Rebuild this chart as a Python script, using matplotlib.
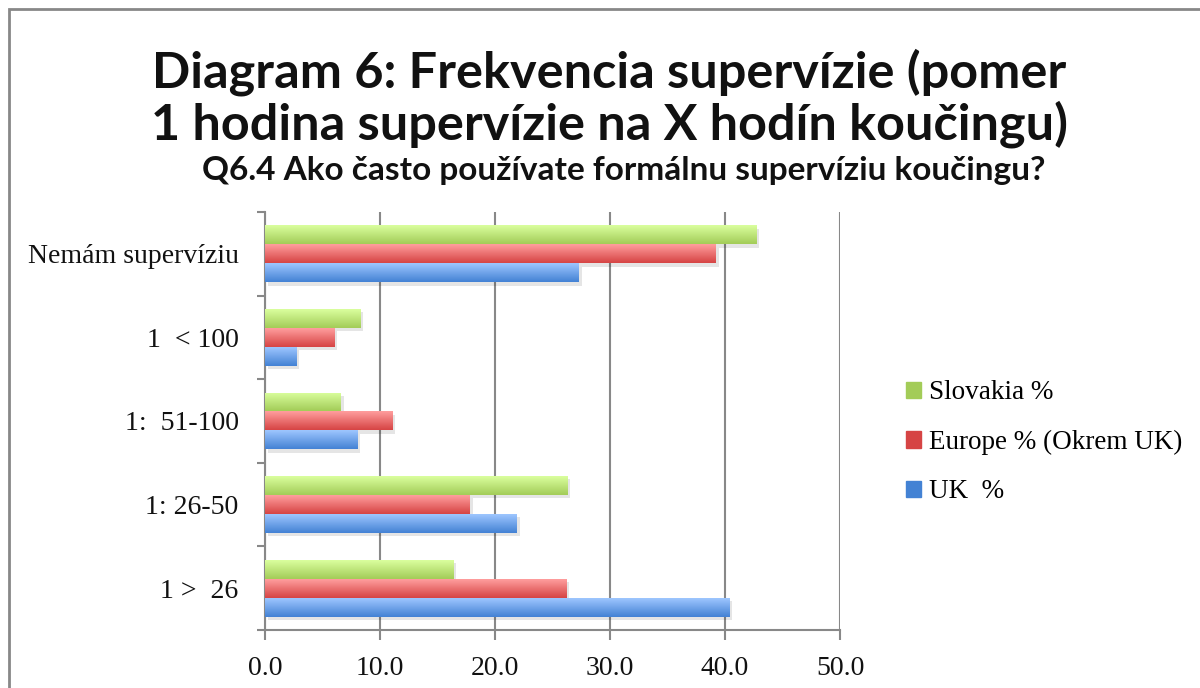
import matplotlib.pyplot as plt
import numpy as np
from matplotlib.colors import LinearSegmentedColormap
from matplotlib.patches import Rectangle

# data
categories = ['Nemám supervíziu', '1  < 100', '1:  51-100', '1: 26-50', '1 >  26']
slovakia = [42.7, 8.3, 6.6, 26.3, 16.4]
europe = [39.2, 6.0, 11.1, 17.8, 26.2]
uk = [27.3, 2.7, 8.0, 21.9, 40.4]
series_names = ['Slovakia %', 'Europe % (Okrem UK)', 'UK  %']

title = 'Diagram 6: Frekvencia supervízie (pomer\n1 hodina supervízie na X hodín koučingu)'
subtitle = 'Q6.4 Ako často používate formálnu supervíziu koučingu?'

# gradient colours: (top, bottom)
colors = [('#daff9e', '#a3cc58'), ('#ff9e9e', '#d64444'), ('#9ec6ff', '#4382d4')]

serif = 'Liberation Serif'
sans = 'Lato'

fig = plt.figure(figsize=(12, 6.88), dpi=100)
ax = fig.add_axes([0.2208, 0.0843, 0.4792, 0.6076])

n = len(categories)
y = np.arange(n)
h = 0.227
offsets = [-h, 0, h]   # slovakia on top, then europe, uk at the bottom

ax.set_xlim(0, 50)
ax.set_ylim(n - 0.5, -0.5)

for k, vals in enumerate([slovakia, europe, uk]):
    top, bot = colors[k]
    cmap = LinearSegmentedColormap.from_list('g%d' % k, [top, bot])
    bars = ax.barh(y + offsets[k], vals, height=h, color=bot, label=series_names[k], zorder=3)
    for b in bars:
        x0, y0 = b.get_x(), b.get_y()
        w, hh = b.get_width(), b.get_height()
        # soft shadow
        ax.add_patch(Rectangle((x0 + 0.25, y0 + 0.04), w, hh, color='#000000', alpha=0.10,
                               lw=0, zorder=2))
        grad = np.linspace(0, 1, 64).reshape(-1, 1)
        im = ax.imshow(grad, cmap=cmap, aspect='auto', extent=(x0, x0 + w, y0 + hh, y0),
                       zorder=4, interpolation='bicubic')
        im.set_clip_path(b)

ax.set_xlim(0, 50)
ax.set_ylim(n - 0.5, -0.5)

ax.set_xticks(np.arange(0, 51, 10))
ax.set_xticklabels(['%.1f' % v for v in np.arange(0, 51, 10)])
ax.set_yticks(y)
ax.set_yticklabels(categories)
ax.set_yticks(np.arange(-0.5, n, 1), minor=True)
ax.tick_params(axis='y', which='major', length=0, pad=19)
ax.tick_params(axis='y', which='minor', length=6, width=1.5, color='#888888')
ax.tick_params(axis='x', length=7, width=1.5, color='#888888', pad=12)
for lab in ax.get_xticklabels() + ax.get_yticklabels():
    lab.set_fontfamily(serif)
    lab.set_fontsize(20)
    lab.set_color('#111111')

ax.grid(axis='x', color='#888888', lw=1.5, zorder=1)
for s in ['top', 'right']:
    ax.spines[s].set_visible(False)
for s in ['left', 'bottom']:
    ax.spines[s].set_color('#888888')
    ax.spines[s].set_linewidth(1.5)

handles, labels = ax.get_legend_handles_labels()
leg = fig.legend(handles, labels, loc='center left', bbox_to_anchor=(0.735, 0.357),
                 frameon=False, prop={'family': serif, 'size': 19.5},
                 handlelength=0.55, handleheight=0.55, handletextpad=0.3, labelspacing=0.9)
for hnd, (top, bot) in zip(leg.legend_handles, colors):
    hnd.set_color(bot)

fig.text(0.508, 0.857, title, ha='center', va='center', fontsize=36.3, fontweight='bold',
         family=sans, linespacing=1.12, color='#111111')
fig.text(0.52, 0.752, subtitle, ha='center', va='center', fontsize=24, fontweight='bold',
         family=sans, color='#111111')

# outer frame of the picture
fig.add_artist(Rectangle((9 / 1200, -0.05), 1.2, 1 - 9 / 688 + 0.05, transform=fig.transFigure,
                         fill=False, ec='#888888', lw=2))

fig.savefig('out.png', dpi=100)
